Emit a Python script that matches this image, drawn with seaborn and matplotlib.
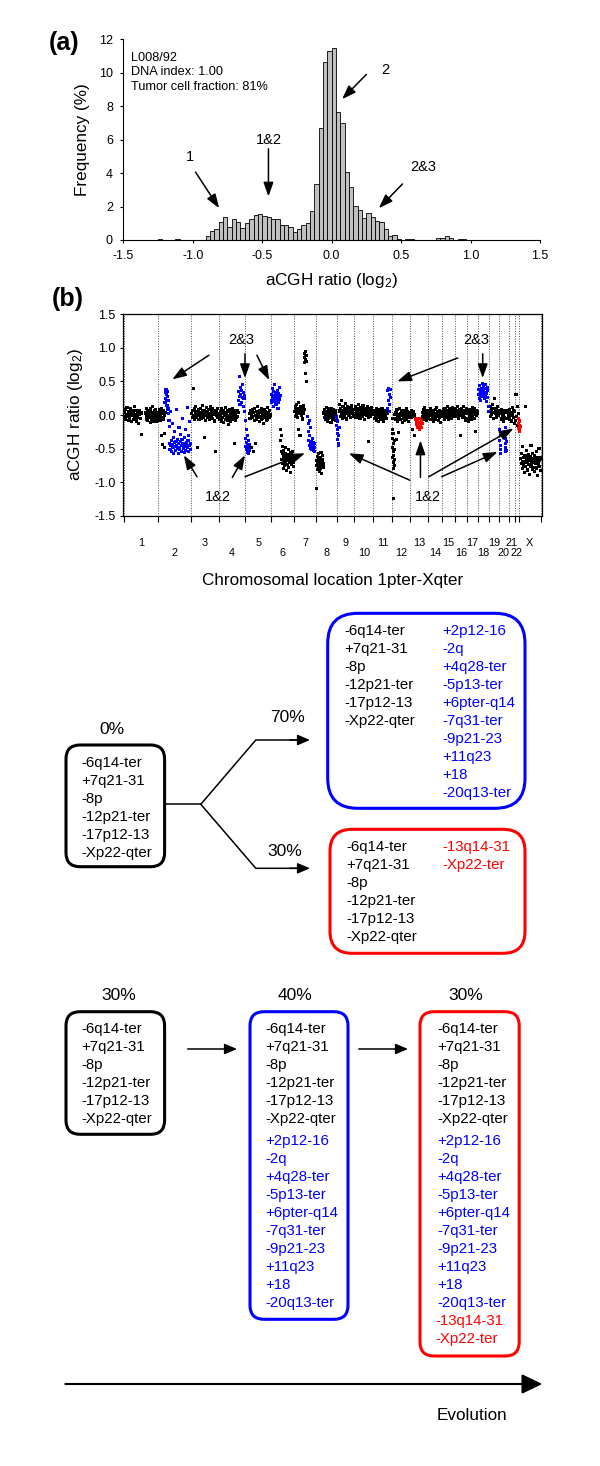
import numpy as np
import pandas as pd
import matplotlib
matplotlib.use("Agg")
import matplotlib.pyplot as plt
from matplotlib.patches import FancyBboxPatch
import seaborn as sns

FIG_W, FIG_H = 600, 1466

# ---------------- panel (a): histogram ----------------
BIN_WIDTH = 1 / 32
FIRST_BIN = -40  # left edge of the first bin, in bin widths
HIST_FREQ = [
    0.05, 0, 0, 0, 0.04, 0, 0, 0, 0, 0, 0,
    0.24, 0.52, 0.66, 1.08, 1.38, 0.78, 1.24, 1.08, 0.74, 1.04,
    1.26, 1.48, 1.56, 1.46, 1.40, 1.24, 1.26, 0.88, 0.88, 0.80,
    0.50, 0.65, 0.90, 1.04, 1.75, 3.33, 6.68, 10.64, 11.30, 11.47,
    7.68, 6.98, 4.09, 3.15, 2.04, 1.80, 1.30, 1.60, 1.40, 1.14,
    1.08, 0.68, 0.22, 0.28, 0.05, 0, 0.06, 0.06, 0, 0,
    0, 0, 0, 0.10, 0.14, 0.26, 0.14, 0, 0.06, 0.06,
]
SAMPLE_INFO = ["L008/92", "DNA index: 1.00", "Tumor cell fraction: 81%"]
HIST_LABELS = ["1", "1&2", "2", "2&3"]

# ---------------- panel (b): genome profile ----------------
CHROM_NAMES = [str(i) for i in range(1, 23)] + ["X"]
CHROM_SIZES = [246, 239, 199, 191, 186, 166, 158, 146, 127, 139, 135, 130,
               127, 103, 91, 89, 77, 81, 72, 67, 44, 28, 163]

CHR1P = [0.04, -0.03, 0.08, -0.06, 0.01, 0.11, -0.02, -0.08, 0.05, 0.00, -0.05, 0.09,
         0.02, -0.10, 0.06, -0.01, 0.03, -0.07, 0.12, -0.04, 0.00, 0.07, -0.09, 0.02,
         -0.03, 0.05, -0.12, 0.01, 0.06, -0.05, 0.03, -0.29]
CHR1Q = [0.03, -0.06, 0.10, -0.02, 0.05, -0.08, 0.00, 0.07, -0.04, 0.02, -0.11, 0.09,
         -0.01, 0.04, -0.07, 0.13, -0.03, 0.01, -0.09, 0.06, -0.02, 0.08, -0.05, 0.03,
         -0.10, 0.00]
CHR2_BASE = [0.03, -0.05, 0.08, 0.00, -0.08, 0.05, -0.02, 0.10, -0.31, -0.04, 0.02, -0.44,
             -0.06, 0.07, -0.27, -0.01, -0.48, 0.04]
CHR2_GAIN = [0.18, 0.33, 0.25, 0.38, 0.21, 0.30, 0.14, 0.35, 0.27, 0.09, 0.22, 0.02, -0.08, -0.17]
CHR2_LOSS = [-0.42, -0.51, 0.05, -0.46, -0.38, -0.55, -0.12, -0.44, -0.49, -0.33, -0.57, -0.41,
             -0.24, -0.47, -0.53, -0.39, 0.08, -0.45, -0.50, -0.36, -0.58, -0.43, -0.18, -0.48,
             -0.52, -0.40, -0.29, -0.46, -0.55, -0.37, -0.05, -0.44, -0.50, -0.42, -0.56, -0.34,
             -0.47, -0.22, -0.53, -0.41, -0.45, 0.11, -0.49, -0.38, -0.54, -0.30, -0.46, -0.10,
             -0.43, -0.51]
CHR3 = [0.02, -0.04, 0.07, 0.40, -0.01, 0.09, -0.06, 0.03, 0.12, -0.03, 0.05, -0.49, 0.00,
        0.08, -0.07, 0.04, -0.02, 0.10, 0.01, -0.05, 0.06, 0.14, -0.03, 0.02, -0.34, 0.07,
        -0.08, 0.03, 0.00, 0.11, -0.04, 0.05, -0.01, 0.08, -0.06, 0.02, 0.13, -0.02, 0.04,
        0.09, -0.05, 0.01, 0.06, -0.09, 0.03, 0.07, -0.54, 0.00, 0.05, -0.03, 0.10, 0.02]
CHR4_BASE = [0.01, -0.06, 0.05, -0.02, 0.09, -0.09, 0.03, -0.04, 0.07, -0.11, 0.00, 0.04,
             -0.07, 0.11, -0.03, 0.02, -0.08, 0.06, -0.01, -0.14, 0.08, -0.05, 0.03, -0.10,
             0.05, 0.00, -0.06, 0.10, -0.03, 0.02, -0.42, 0.06, -0.08, 0.01, -0.04, 0.07,
             -0.02, 0.04]
CHR4_GAIN = [0.22, 0.35, 0.58, 0.28, 0.15, 0.41, 0.31, 0.19, 0.37, 0.26, 0.45, 0.12, 0.33,
             0.24, 0.05, 0.29]
CHR5_LOSS = [-0.08, -0.35, -0.47, -0.22, -0.52, -0.41, -0.56, -0.30, -0.45, -0.50, -0.38,
             -0.58, -0.44, -0.53]
CHR5_BASE = [0.02, -0.05, 0.06, -0.48, 0.00, 0.08, -0.03, -0.55, 0.04, -0.08, 0.10, -0.42,
             -0.01, 0.05, -0.06, 0.03, 0.12, -0.04, 0.01, -0.10, 0.07, -0.02, 0.04, -0.07,
             0.09, 0.00, -0.05, 0.06, -0.12, 0.02, 0.08, -0.03, 0.05, -0.08, 0.01, 0.11,
             -0.06, 0.03, -0.01, 0.07, -0.04, 0.00]
CHR6_GAIN = [0.22, 0.31, 0.18, 0.27, 0.39, 0.24, 0.13, 0.29, 0.35, 0.20, 0.26, 0.45, 0.17,
             0.30, 0.23, 0.33, 0.15, 0.28, 0.21, 0.37, 0.25, 0.10, 0.32, 0.19, 0.27, 0.41,
             0.23, 0.29]
CHR6_LOSS = [-0.22, -0.38, -0.55, -0.31, -0.66, -0.47, -0.72, -0.58, -0.61, -0.80, -0.53,
             -0.69, -0.64, -0.75, -0.57, -0.70, -0.49, -0.83, -0.62, -0.67, -0.59, -0.74,
             -0.65, -0.52, -0.78, -0.60, -0.68, -0.71, -0.56, -0.63, -0.85, -0.66, -0.58,
             -0.73, -0.61, -0.69, -0.54, -0.77, -0.64, -0.70]
CHR7_BASE = [0.05, 0.12, -0.02, 0.08, 0.15, 0.01, 0.09, -0.04, 0.06, 0.18, 0.03, -0.22,
             0.10, 0.04, -0.31, 0.07, 0.13, -0.01, 0.06, 0.11, 0.02, -0.06, 0.09, 0.14,
             0.03, 0.08]
CHR7_GAIN = [0.86, 0.92, 0.78, 0.95, 0.83, 0.62, 0.89, 0.80, 0.50, 0.88]
CHR7_LOSS = [-0.02, -0.12, -0.25, -0.38, -0.08, -0.45, -0.31, -0.50, -0.42, -0.18, -0.47,
             -0.52, -0.40, -0.44, -0.35, -0.49, -0.46, -0.53, -0.41, -0.48, -0.43, -0.55]
CHR8_LOSS = [-1.10, -0.68, -0.75, -0.62, -0.81, -0.70, -0.58, -0.77, -0.66, -0.84, -0.72,
             -0.64, -0.79, -0.69, -0.56, -0.74, -0.87, -0.67, -0.71, -0.60, -0.78, -0.73]
CHR8_BASE = [0.03, -0.04, 0.08, 0.01, -0.07, 0.05, 0.11, -0.02, 0.04, -0.09, 0.07, 0.00,
             -0.05, 0.09, 0.02, -0.03, 0.06, -0.11, 0.04, 0.10, -0.01, 0.05, -0.06, 0.03,
             0.08, -0.04, 0.01, 0.07, -0.08, 0.02]
CHR9_LOSS = [-0.03, -0.15, -0.28, -0.09, -0.36, -0.22, -0.42, -0.31, -0.45, -0.19]
CHR9_BASE = [0.06, 0.15, -0.02, 0.09, 0.03, 0.21, -0.05, 0.07, 0.12, 0.00, 0.05, -0.03,
             0.10, 0.17, 0.02, 0.08, -0.06, 0.04, 0.13, 0.01, 0.06, -0.01, 0.11, 0.03,
             0.07, -0.04, 0.09, 0.14, 0.02, 0.05, -0.02, 0.08]
CHR10 = [0.08, 0.02, 0.13, -0.03, 0.06, 0.10, -0.01, 0.04, 0.16, 0.00, 0.07, -0.05, 0.11,
         0.03, 0.09, -0.02, 0.05, 0.14, 0.01, 0.06, -0.07, 0.10, 0.03, 0.08, -0.01, 0.04,
         0.12, 0.00, -0.40, -0.04, 0.02, 0.09, 0.05, -0.02, 0.11, 0.03, 0.06, 0.01]
CHR11_BASE = [0.02, -0.05, 0.07, -0.01, 0.04, -0.08, 0.10, 0.00, -0.03, 0.06, -0.10, 0.03,
              0.08, -0.04, 0.01, -0.07, 0.05, -0.02, 0.09, -0.06, 0.02, 0.00, -0.09, 0.04,
              0.07, -0.03, 0.01, 0.05, -0.05, 0.03]
CHR11_GAIN = [0.10, 0.36, 0.22, 0.40, 0.05, 0.31, 0.15, 0.38, 0.26]
CHR12_LOSS = [-0.05, -0.22, -0.48, -0.35, -0.63, -0.28, -0.55, -0.71, -0.42, -0.80, -0.60,
              -1.25, -0.52, -0.75, -0.38, -0.66]
CHR12_BASE = [0.01, -0.06, 0.04, -0.36, 0.08, -0.09, 0.00, -0.26, -0.04, 0.10, -0.07, 0.02,
              -0.01, 0.06, -0.11, 0.03, -0.05, 0.07, 0.00, -0.08, 0.04, -0.03, 0.09, -0.06,
              0.01, 0.05, -0.02, -0.10, 0.03, -0.04]
CHR13_BASE_A = [0.03, -0.04, 0.07, -0.01, 0.02, -0.22, 0.05, -0.02, -0.31, 0.00]
CHR13_LOSS = [-0.06, -0.14, -0.10, -0.19, -0.08, -0.16, -0.12, -0.21, -0.05, -0.15, -0.11,
              -0.18, -0.09, -0.13]
CHR13_BASE_B = [0.04, -0.03, 0.08, 0.01, -0.06, 0.05, 0.11, -0.02, 0.03, -0.08, 0.06, 0.00,
                -0.04, 0.07]
CHR14 = [0.02, -0.05, 0.06, -0.01, 0.09, -0.07, 0.03, 0.00, -0.04, 0.07, -0.09, 0.04, 0.01,
         -0.03, 0.08, -0.06, 0.02, 0.11, -0.02, 0.05, -0.08, 0.00, 0.06, -0.04, 0.03, -0.11,
         0.04, -0.01]
CHR15 = [0.05, -0.02, 0.08, 0.01, -0.06, 0.10, 0.03, -0.04, 0.06, -0.01, 0.12, 0.00, -0.07,
         0.04, 0.09, -0.03, 0.02, 0.07, -0.05, 0.03, 0.11, -0.02, 0.05, 0.00, 0.08]
CHR16 = [0.03, 0.09, -0.02, 0.06, 0.00, 0.12, -0.05, 0.04, 0.08, -0.01, 0.05, -0.30, 0.02,
         0.10, -0.03, 0.07, 0.01, 0.13, -0.04, 0.06, 0.03, -0.08, 0.09, 0.02]
CHR17 = [-0.06, 0.02, -0.10, 0.05, -0.03, 0.08, 0.00, -0.07, 0.04, 0.11, -0.02, 0.06, 0.01,
         -0.05, 0.09, -0.24, 0.03, 0.07, -0.01, 0.05, 0.02]
CHR18_GAIN = [0.31, 0.38, 0.25, 0.44, 0.29, 0.35, 0.22, 0.40, 0.33, 0.47, 0.27, 0.36, 0.30,
              0.42, 0.24, 0.34, 0.39, 0.28, 0.45, 0.32, 0.20, 0.37, 0.26, 0.41, 0.12, 0.05]
CHR19 = [0.05, 0.12, -0.02, 0.08, 0.01, 0.15, 0.04, -0.05, 0.10, 0.24, 0.02, 0.07, -0.03,
         0.09, 0.00, 0.13, 0.06, -0.01]
CHR20_LOSS_A = [-0.22, -0.38, -0.51, -0.30, -0.45, -0.57]
CHR20_BASE_A = [0.03, -0.06, 0.08, -0.02, 0.05, -0.09, 0.01, 0.06, -0.04]
CHR20_LOSS_B = [-0.27, -0.42, -0.55, -0.35, -0.48, -0.19, -0.53, -0.40]
CHR20_BASE_B = [0.04, -0.05, 0.07, -0.02]
CHR21 = [0.02, -0.06, 0.08, -0.01, 0.04, -0.09, 0.11, 0.00, -0.04, 0.06, -0.12]
CHR22 = [0.05, -0.08, 0.30, -0.02, 0.12, -0.15, 0.02]
CHRX_LATE = [-0.05, -0.12, -0.20, -0.08, -0.25, -0.15, -0.10, -0.22, -0.17]
CHRX_LOSS = [-0.65, -0.72, -0.58, -0.80, -0.69, -0.47, -0.75, -0.63, -0.86, -0.70, -0.61,
             0.13, -0.77, -0.66, -0.53, -0.82, -0.71, -0.64, -0.74, -0.59, -0.88, -0.68,
             -0.76, -0.62, -0.45, -0.73, -0.67, -0.81, -0.57, -0.70, -0.78, -0.65, -0.84,
             -0.60, -0.72, -0.69, -0.55, -0.79, -0.66, -0.90, -0.63, -0.74, -0.71, -0.50,
             -0.77, -0.68, -0.83, -0.64]

# (chromosome, start fraction, end fraction, clone class, values)
SEGMENTS = [
    ("1", 0.01, 0.52, "base", CHR1P), ("1", 0.64, 0.97, "base", CHR1Q),
    ("2", 0.01, 0.22, "base", CHR2_BASE), ("2", 0.21, 0.34, "blue", CHR2_GAIN),
    ("2", 0.35, 0.98, "blue", CHR2_LOSS),
    ("3", 0.02, 0.98, "base", CHR3),
    ("4", 0.02, 0.72, "base", CHR4_BASE), ("4", 0.73, 0.98, "blue", CHR4_GAIN),
    ("5", 0.0, 0.15, "blue", CHR5_LOSS), ("5", 0.16, 0.97, "base", CHR5_BASE),
    ("6", 0.0, 0.38, "blue", CHR6_GAIN), ("6", 0.40, 0.98, "base", CHR6_LOSS),
    ("7", 0.02, 0.45, "base", CHR7_BASE), ("7", 0.46, 0.57, "base", CHR7_GAIN),
    ("7", 0.62, 0.93, "blue", CHR7_LOSS),
    ("8", 0.0, 0.35, "base", CHR8_LOSS), ("8", 0.38, 0.97, "base", CHR8_BASE),
    ("9", 0.0, 0.14, "blue", CHR9_LOSS), ("9", 0.16, 0.97, "base", CHR9_BASE),
    ("10", 0.02, 0.97, "base", CHR10),
    ("11", 0.02, 0.72, "base", CHR11_BASE), ("11", 0.74, 0.92, "blue", CHR11_GAIN),
    ("12", 0.0, 0.12, "base", CHR12_LOSS), ("12", 0.15, 0.97, "base", CHR12_BASE),
    ("13", 0.02, 0.25, "base", CHR13_BASE_A), ("13", 0.32, 0.66, "red", CHR13_LOSS),
    ("13", 0.70, 0.98, "base", CHR13_BASE_B),
    ("14", 0.02, 0.97, "base", CHR14), ("15", 0.02, 0.97, "base", CHR15),
    ("16", 0.02, 0.97, "base", CHR16), ("17", 0.02, 0.97, "base", CHR17),
    ("18", 0.04, 0.96, "blue", CHR18_GAIN), ("19", 0.03, 0.97, "base", CHR19),
    ("20", 0.06, 0.14, "blue", CHR20_LOSS_A), ("20", 0.18, 0.58, "base", CHR20_BASE_A),
    ("20", 0.62, 0.74, "blue", CHR20_LOSS_B), ("20", 0.78, 0.95, "base", CHR20_BASE_B),
    ("21", 0.05, 0.95, "base", CHR21), ("22", 0.05, 0.95, "base", CHR22),
    ("X", 0.0, 0.07, "red", CHRX_LATE), ("X", 0.10, 0.98, "base", CHRX_LOSS),
]

# ---------------- evolution scheme ----------------
SHARED_CHANGES = ["-6q14-ter", "+7q21-31", "-8p", "-12p21-ter", "-17p12-13", "-Xp22-qter"]
BLUE_CHANGES = ["+2p12-16", "-2q", "+4q28-ter", "-5p13-ter", "+6pter-q14", "-7q31-ter",
                "-9p21-23", "+11q23", "+18", "-20q13-ter"]
RED_CHANGES = ["-13q14-31", "-Xp22-ter"]
ROOT_SHARE = "0%"
BRANCH_SHARES = ["70%", "30%"]
STAGE_SHARES = ["30%", "40%", "30%"]

BLUE = "#0000ff"
RED = "#ff0000"


def px_rect(left, top, right, bottom):
    return [left / FIG_W, 1 - bottom / FIG_H, (right - left) / FIG_W, (bottom - top) / FIG_H]


def arrow(ax, start, tip, lw=1.0, hl=0.8, hw=0.3, scale=10):
    ax.annotate("", xy=tip, xytext=start, annotation_clip=False,
                arrowprops=dict(arrowstyle=f"-|>,head_length={hl},head_width={hw}",
                                color="black", lw=lw, shrinkA=0, shrinkB=0,
                                mutation_scale=scale))


sns.set_theme(style="ticks", rc={
    "axes.linewidth": 0.8, "axes.edgecolor": "black", "axes.labelcolor": "black",
    "xtick.color": "black", "ytick.color": "black", "text.color": "black",
    "xtick.major.width": 0.8, "ytick.major.width": 0.8,
    "axes.unicode_minus": False,
})
plt.rcParams["font.family"] = ["Liberation Sans", "DejaVu Sans"]
plt.rcParams["mathtext.fontset"] = "custom"
plt.rcParams["mathtext.rm"] = "Liberation Sans"
plt.rcParams["mathtext.it"] = "Liberation Sans:italic"

fig = plt.figure(figsize=(FIG_W / 100, FIG_H / 100), dpi=100)

# full-figure canvas in pixel units for the scheme and panel letters
ax_d = fig.add_axes([0, 0, 1, 1])
ax_d.set_xlim(0, FIG_W)
ax_d.set_ylim(FIG_H, 0)
ax_d.axis("off")

ax_d.text(64, 43, "(a)", fontsize=18, fontweight="bold", ha="center", va="center")
ax_d.text(68, 299, "(b)", fontsize=18, fontweight="bold", ha="center", va="center")

# ---- panel (a) ----
ax_h = fig.add_axes(px_rect(123.3, 39.3, 540, 240))
edges = (FIRST_BIN + np.arange(len(HIST_FREQ) + 1)) * BIN_WIDTH
hist_df = pd.DataFrame({"ratio": edges[:-1] + BIN_WIDTH / 2, "freq": HIST_FREQ})
sns.histplot(data=hist_df, x="ratio", weights="freq", binwidth=BIN_WIDTH,
             binrange=(edges[0], edges[-1]), color="#c0c0c0",
             edgecolor="black", linewidth=0.6, alpha=1, ax=ax_h)
ax_h.set_xlim(-1.5, 1.5)
ax_h.set_ylim(0, 12)
ax_h.set_xticks(np.arange(-1.5, 1.51, 0.5))
ax_h.set_yticks(np.arange(0, 13, 2))
ax_h.tick_params(direction="out", length=2.5, labelsize=9, pad=5)
sns.despine(ax=ax_h)
ax_h.set_xlabel("aCGH ratio (log$_2$)", fontsize=12.3)
ax_h.xaxis.set_label_coords(0.5, -0.20)
ax_h.xaxis.label.set_va("center")
ax_h.set_ylabel("Frequency (%)", fontsize=12.3)
ax_h.yaxis.set_label_coords(-0.099, 0.5)
ax_h.yaxis.label.set_va("center")

for i, line in enumerate(SAMPLE_INFO):
    ax_h.text(-1.445, 10.9 - 0.88 * i, line, fontsize=9.2, va="center")

hist_text_pos = [(-1.02, 4.95), (-0.455, 6.0), (0.383, 10.18), (0.658, 4.39)]
hist_arrows = [((-0.98, 4.06), (-0.81, 1.9)), ((-0.455, 5.45), (-0.455, 2.6)),
               ((0.25, 9.9), (0.075, 8.42)), ((0.51, 3.35), (0.34, 1.9))]
for label, pos, (start, tip) in zip(HIST_LABELS, hist_text_pos, hist_arrows):
    ax_h.text(*pos, label, fontsize=10.5, ha="center", va="center")
    arrow(ax_h, start, tip, lw=1.1, hl=0.85, hw=0.3)

# ---- panel (b) ----
ax_s = fig.add_axes(px_rect(122.7, 314.3, 542.3, 515.7))
chrom_start = np.concatenate([[0], np.cumsum(CHROM_SIZES)[:-1]])
genome_end = float(np.sum(CHROM_SIZES))

frames = []
for chrom, f0, f1, cls, values in SEGMENTS:
    i = CHROM_NAMES.index(chrom)
    pos = chrom_start[i] + np.linspace(f0, f1, len(values)) * CHROM_SIZES[i]
    frames.append(pd.DataFrame({"pos": pos, "ratio": values, "clone": cls}))
probes = pd.concat(frames, ignore_index=True)
probes["top"] = probes["clone"] != "base"
probes = probes.sort_values("top", kind="stable")

boundaries = list(chrom_start) + [genome_end]
for b in boundaries:
    ax_s.axvline(b, color="0.3", lw=0.7, ls=(0, (1, 1.6)), zorder=0)

sns.scatterplot(data=probes, x="pos", y="ratio", hue="clone",
                palette={"base": "black", "blue": BLUE, "red": RED},
                marker="s", s=5, linewidth=0, legend=False, ax=ax_s, zorder=2)

margin = 8
ax_s.set_xlim(-margin, genome_end + margin)
ax_s.set_ylim(-1.5, 1.5)
ax_s.set_xticks(boundaries)
ax_s.set_xticklabels([])
ax_s.set_yticks(np.arange(-1.5, 1.51, 0.5))
ax_s.tick_params(axis="x", direction="out", length=4)
ax_s.tick_params(axis="y", direction="out", length=2, labelsize=9, pad=3)
for sp in ax_s.spines.values():
    sp.set_linewidth(0.9)

ax_s.set_xlabel("Chromosomal location 1pter-Xqter", fontsize=12.3)
ax_s.xaxis.set_label_coords(0.5, -0.32)
ax_s.xaxis.label.set_va("center")
ax_s.set_ylabel("aCGH ratio (log$_2$)", fontsize=12.3)
ax_s.yaxis.set_label_coords(-0.113, 0.5)
ax_s.yaxis.label.set_va("center")

for i, name in enumerate(CHROM_NAMES):
    mid = chrom_start[i] + CHROM_SIZES[i] / 2
    row_y = -0.137 if i % 2 == 0 else -0.187
    ax_s.text(mid, row_y, name, fontsize=7.8, ha="center", va="center",
              transform=ax_s.get_xaxis_transform())

scatter_labels = [("2&3", (847, 1.12)), ("2&3", (2536, 1.12)),
                  ("1&2", (678, -1.22)), ("1&2", (2187, -1.22))]
for label, pos in scatter_labels:
    ax_s.text(*pos, label, fontsize=10.5, ha="center", va="center")

scatter_arrows = [
    ((612, 0.89), (349, 0.53)), ((872, 0.91), (872, 0.55)), ((958, 0.89), (1046, 0.52)),
    ((2403, 0.85), (1968, 0.50)), ((2583, 0.91), (2583, 0.55)),
    ((527, -0.92), (432, -0.60)), ((781, -0.93), (872, -0.60)), ((872, -0.92), (1304, -0.57)),
    ((2057, -0.97), (1619, -0.57)), ((2135, -0.93), (2135, -0.38)),
    ((2195, -0.92), (2805, -0.20)), ((2287, -0.92), (2690, -0.55)),
]
for start, tip in scatter_arrows:
    arrow(ax_s, start, tip, lw=1.1, hl=0.85, hw=0.3)

# ---- evolution scheme ----
LINE_H = 18
TXT = 10.8
PCT = 12.5


def box(x0, y0, x1, y1, color, radius):
    ax_d.add_patch(FancyBboxPatch((x0, y0), x1 - x0, y1 - y0,
                                  boxstyle=f"round,pad=0,rounding_size={radius}",
                                  fill=False, edgecolor=color, lw=2.2))


def lines(x, y0, items, color):
    for k, item in enumerate(items):
        ax_d.text(x, y0 + LINE_H * k, item, fontsize=TXT, color=color, va="center")


# branching model
ax_d.text(111.5, 729, ROOT_SHARE, fontsize=PCT, ha="center", va="center")
box(66, 745, 164.6, 866.7, "black", 14)
lines(81.5, 763, SHARED_CHANGES, "black")

ax_d.plot([164.6, 200.8], [804.3, 804.3], color="black", lw=1.1)
ax_d.plot([200.8, 255.8, 300], [804.3, 740, 740], color="black", lw=1.1)
ax_d.plot([200.8, 255.8, 300], [804.3, 868.3, 868.3], color="black", lw=1.1)
arrow(ax_d, (290, 740), (310, 740), lw=1.1, hl=0.75, hw=0.32)
arrow(ax_d, (290, 868.3), (310, 868.3), lw=1.1, hl=0.75, hw=0.32)
ax_d.text(287.7, 717, BRANCH_SHARES[0], fontsize=PCT, ha="center", va="center")
ax_d.text(284.6, 851, BRANCH_SHARES[1], fontsize=PCT, ha="center", va="center")

box(327.7, 613.3, 525, 808.3, BLUE, 30)
lines(344.2, 631, SHARED_CHANGES, "black")
lines(442.3, 631, BLUE_CHANGES, BLUE)

box(330, 829.3, 525, 953.3, RED, 22)
lines(346, 847, SHARED_CHANGES, "black")
lines(442.3, 847, RED_CHANGES, RED)

# linear model
for xc, share in zip([119.2, 295, 466], STAGE_SHARES):
    ax_d.text(xc, 995, share, fontsize=PCT, ha="center", va="center")

box(66, 1011.7, 164.6, 1134.3, "black", 14)
lines(81.5, 1029.3, SHARED_CHANGES, "black")
arrow(ax_d, (187.7, 1049), (237, 1049), lw=1.1, hl=0.75, hw=0.32)

box(250, 1011.7, 348, 1319.3, BLUE, 14)
lines(265.4, 1029.3, SHARED_CHANGES, "black")
lines(265.4, 1141, BLUE_CHANGES, BLUE)
arrow(ax_d, (358.8, 1049), (408, 1049), lw=1.1, hl=0.75, hw=0.32)

box(420, 1011.7, 519.2, 1356, RED, 14)
lines(437.3, 1029.3, SHARED_CHANGES, "black")
lines(437.3, 1141, BLUE_CHANGES, BLUE)
lines(435.5, 1321, RED_CHANGES, RED)

arrow(ax_d, (65.4, 1384), (542.3, 1384), lw=1.5, hl=1.25, hw=0.6)
ax_d.text(472.3, 1415, "Evolution", fontsize=12.3, ha="center", va="center")

fig.savefig("out.png", dpi=100)
